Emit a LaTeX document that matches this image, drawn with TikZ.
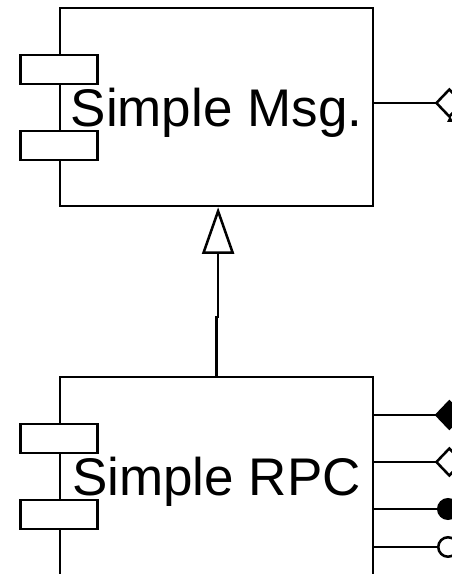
\documentclass[tikz,border=0pt]{standalone}
\usepackage{fontspec}
\setmainfont{Liberation Sans}
\usetikzlibrary{arrows.meta, positioning}

\begin{document}
\begin{tikzpicture}[
      x=0.75pt, y=-0.75pt,
      line width=1.9pt,
      comp/.style = {draw, rectangle, inner sep=0pt, minimum width=234.75pt, minimum height=148.5pt,
                     text depth=0pt, font=\fontsize{39.75pt}{46pt}\selectfont},
      tab/.style  = {draw, fill=white, inner sep=0pt, minimum width=57.75pt, minimum height=21.75pt},
      inh/.style  = {-{Triangle[open, length=35pt, width=24pt]}},
      agg/.style  = {-{Diamond[open, length=22pt, width=23pt]}},
      cmp/.style  = {-{Diamond[length=22pt, width=23pt]}},
      dot/.style  = {-{Circle[length=16.5pt]}},
      odot/.style = {-{Circle[open, length=16.5pt]}}
]
\useasboundingbox (0,0) rectangle (452,574);
\clip (0,0) rectangle (452,574);

% komponente
\node[comp] (msg) at (216.5,107) {Simple Msg.};
\node[comp] (rpc) at (216.5,476) {Simple RPC};

% jezicci na lijevom rubu
\node[tab, below=35.25pt of msg.north west] (msgtabA) {};
\node[tab, below=92.25pt of msg.north west] (msgtabB) {};
\node[tab, below=35.25pt of rpc.north west] (rpctabA) {};
\node[tab, below=92.25pt of rpc.north west] (rpctabB) {};

% nasljedivanje
\coordinate (jog) at (216.5,317);
\draw[inh] (rpc.north) -- (jog) -| ([xshift=1.2pt]msg.south);

% veze desno (izlaze iz slike)
\coordinate (msgend) at (464,103);
\draw[agg] (msg.east |- msgend) -- (msgend);
\fill (447,122) -- (450,116) -- (453,122) -- cycle;

\coordinate (rpcendA) at (464,415);
\coordinate (rpcendB) at (464,462);
\coordinate (rpcendC) at (459,509);
\coordinate (rpcendD) at (459,547);
\draw[cmp]  (rpc.east |- rpcendA) -- (rpcendA);
\draw[agg]  (rpc.east |- rpcendB) -- (rpcendB);
\draw[dot]  (rpc.east |- rpcendC) -- (rpcendC);
\draw[odot] (rpc.east |- rpcendD) -- (rpcendD);
\end{tikzpicture}
\end{document}
